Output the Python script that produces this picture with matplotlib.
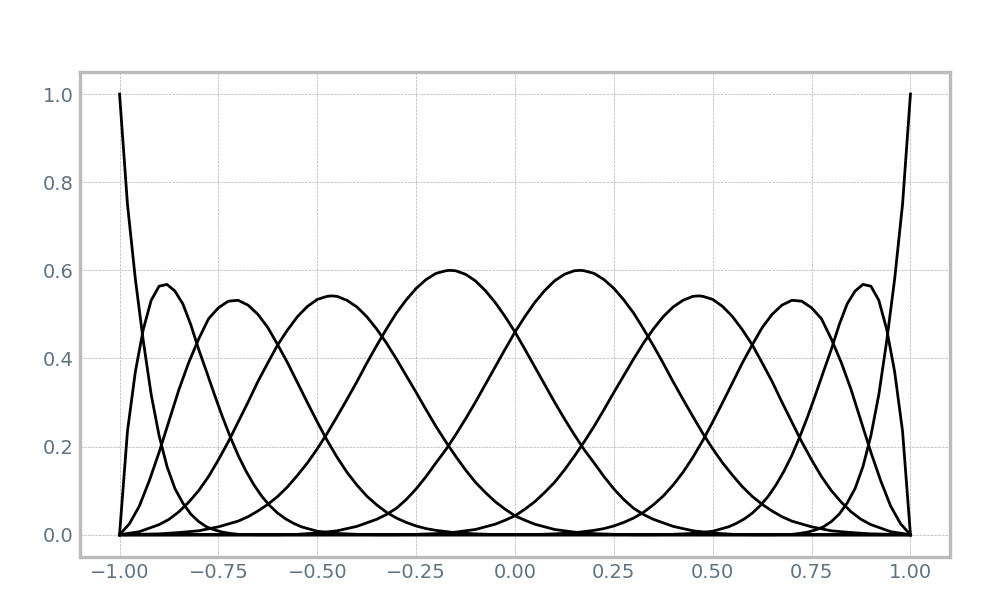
import matplotlib
matplotlib.use('Agg')
import matplotlib.pyplot as plt

# basis curves (left half, then mirrored right half)
xa = [-1.00, -0.98, -0.96, -0.94, -0.92, -0.90, -0.88, -0.86, -0.84, -0.82, -0.80, -0.78, -0.76, -0.74, -0.72, -0.70, -0.65, 1.00]
ya = [1.000, 0.750, 0.580, 0.440, 0.318, 0.225, 0.155, 0.105, 0.072, 0.047, 0.030, 0.018, 0.011, 0.006, 0.003, 0.001, 0.000, 0.000]

xb = [-1.00, -0.98, -0.96, -0.94, -0.92, -0.90, -0.88, -0.86, -0.84, -0.82, -0.80, -0.78, -0.76, -0.74, -0.72, -0.70,
      -0.68, -0.66, -0.64, -0.62, -0.60, -0.58, -0.56, -0.54, -0.50, -0.45, -0.40, -0.35, 1.00]
yb = [0.000, 0.235, 0.370, 0.466, 0.532, 0.564, 0.568, 0.553, 0.524, 0.477, 0.421, 0.370, 0.318, 0.268, 0.222, 0.180,
      0.144, 0.113, 0.087, 0.066, 0.049, 0.036, 0.026, 0.018, 0.008, 0.003, 0.001, 0.000, 0.000]

xc = [-1.000, -0.975, -0.950, -0.925, -0.900, -0.875, -0.850, -0.825, -0.800, -0.775, -0.750, -0.725, -0.700,
      -0.675, -0.650, -0.625, -0.600, -0.575, -0.550, -0.525, -0.500, -0.475, -0.450, -0.425, -0.400, -0.375,
      -0.350, -0.325, -0.300, -0.275, -0.250, -0.225, -0.200, -0.150, -0.100, -0.050, 1.000]
yc = [0.000, 0.025, 0.065, 0.122, 0.187, 0.258, 0.329, 0.391, 0.444, 0.490, 0.515, 0.530, 0.532,
      0.521, 0.500, 0.470, 0.431, 0.390, 0.345, 0.300, 0.256, 0.214, 0.176, 0.142, 0.113, 0.088,
      0.068, 0.051, 0.038, 0.028, 0.020, 0.014, 0.010, 0.0045, 0.002, 0.0005, 0.000]

xd = [-1.00, -0.95, -0.90, -0.875, -0.85, -0.825, -0.80, -0.775, -0.75, -0.725, -0.70, -0.675, -0.65, -0.625,
      -0.60, -0.575, -0.55, -0.525, -0.50, -0.475, -0.465, -0.45, -0.425, -0.40, -0.375, -0.35, -0.325, -0.30,
      -0.275, -0.25, -0.225, -0.20, -0.175, -0.15, -0.125, -0.10, -0.075, -0.05, -0.025, 0.00, 0.025, 0.05,
      0.10, 0.15, 0.20, 0.25, 0.30, 1.00]
yd = [0.000, 0.007, 0.023, 0.035, 0.052, 0.074, 0.100, 0.132, 0.170, 0.211, 0.256, 0.301, 0.348, 0.390,
      0.431, 0.465, 0.495, 0.518, 0.534, 0.541, 0.542, 0.541, 0.532, 0.517, 0.495, 0.467, 0.435, 0.399,
      0.361, 0.323, 0.284, 0.246, 0.211, 0.178, 0.147, 0.119, 0.096, 0.075, 0.058, 0.043, 0.033, 0.024,
      0.012, 0.006, 0.0025, 0.001, 0.000, 0.000]

xe = [-1.00, -0.95, -0.90, -0.85, -0.80, -0.75, -0.70, -0.675, -0.65, -0.625, -0.60, -0.575, -0.55, -0.525,
      -0.50, -0.475, -0.45, -0.425, -0.40, -0.375, -0.35, -0.325, -0.30, -0.275, -0.25, -0.225, -0.20, -0.175,
      -0.165, -0.15, -0.125, -0.10, -0.075, -0.05, -0.025, 0.00, 0.025, 0.05, 0.075, 0.10, 0.125, 0.15, 0.175,
      0.20, 0.225, 0.25, 0.275, 0.30, 0.325, 0.35, 0.40, 0.45, 0.50, 0.55, 0.60, 1.00]
ye = [0.000, 0.001, 0.002, 0.005, 0.009, 0.018, 0.031, 0.041, 0.054, 0.069, 0.087, 0.109, 0.135, 0.163,
      0.195, 0.230, 0.268, 0.307, 0.347, 0.389, 0.429, 0.467, 0.503, 0.533, 0.559, 0.579, 0.593, 0.599,
      0.600, 0.599, 0.591, 0.576, 0.554, 0.527, 0.495, 0.460, 0.421, 0.381, 0.341, 0.301, 0.263, 0.227, 0.193,
      0.163, 0.132, 0.104, 0.080, 0.060, 0.046, 0.035, 0.019, 0.009, 0.004, 0.001, 0.000, 0.000]

xe2 = [-1.00, -0.60, -0.55, -0.50, -0.45, -0.40, -0.35, -0.325, -0.30, -0.275, -0.25, -0.225, -0.20, -0.175,
       -0.15, -0.125, -0.10, -0.075, -0.05, -0.025, 0.00, 0.025, 0.05, 0.075, 0.10, 0.125, 0.15, 0.165, 0.175,
       0.20, 0.225, 0.25, 0.275, 0.30, 0.325, 0.35, 0.375, 0.40, 0.425, 0.45, 0.475, 0.50, 0.525, 0.55, 0.575,
       0.60, 0.625, 0.65, 0.675, 0.70, 0.75, 0.80, 0.85, 0.90, 0.95, 1.00]
ye2 = [0.000, 0.000, 0.001, 0.004, 0.009, 0.019, 0.035, 0.046, 0.060, 0.080, 0.104, 0.132, 0.163, 0.193,
       0.227, 0.263, 0.301, 0.341, 0.381, 0.421, 0.460, 0.495, 0.527, 0.554, 0.576, 0.591, 0.599, 0.600, 0.599,
       0.593, 0.579, 0.559, 0.533, 0.503, 0.467, 0.429, 0.389, 0.347, 0.307, 0.268, 0.230, 0.195, 0.163, 0.135,
       0.109, 0.087, 0.069, 0.054, 0.041, 0.031, 0.018, 0.009, 0.005, 0.002, 0.001, 0.000]

xd2 = [-1.00, -0.30, -0.25, -0.20, -0.15, -0.10, -0.05, -0.025, 0.00, 0.025, 0.05, 0.075, 0.10, 0.125, 0.15,
       0.175, 0.20, 0.225, 0.25, 0.275, 0.30, 0.325, 0.35, 0.375, 0.40, 0.425, 0.45, 0.465, 0.475, 0.50, 0.525,
       0.55, 0.575, 0.60, 0.625, 0.65, 0.675, 0.70, 0.725, 0.75, 0.775, 0.80, 0.825, 0.85, 0.875, 0.90, 0.95, 1.00]
yd2 = [0.000, 0.000, 0.001, 0.0025, 0.006, 0.012, 0.024, 0.033, 0.043, 0.058, 0.075, 0.096, 0.119, 0.147, 0.178,
       0.211, 0.246, 0.284, 0.323, 0.361, 0.399, 0.435, 0.467, 0.495, 0.517, 0.532, 0.541, 0.542, 0.541, 0.534, 0.518,
       0.495, 0.465, 0.431, 0.390, 0.348, 0.301, 0.256, 0.211, 0.170, 0.132, 0.100, 0.074, 0.052, 0.035, 0.023, 0.007, 0.000]

xc2 = [-1.000, 0.050, 0.100, 0.150, 0.200, 0.225, 0.250, 0.275, 0.300, 0.325, 0.350, 0.375, 0.400, 0.425,
       0.450, 0.475, 0.500, 0.525, 0.550, 0.575, 0.600, 0.625, 0.650, 0.675, 0.700, 0.725, 0.750, 0.775,
       0.800, 0.825, 0.850, 0.875, 0.900, 0.925, 0.950, 0.975, 1.000]
yc2 = [0.000, 0.0005, 0.002, 0.0045, 0.010, 0.014, 0.020, 0.028, 0.038, 0.051, 0.068, 0.088, 0.113, 0.142,
       0.176, 0.214, 0.256, 0.300, 0.345, 0.390, 0.431, 0.470, 0.500, 0.521, 0.532, 0.530, 0.515, 0.490,
       0.444, 0.391, 0.329, 0.258, 0.187, 0.122, 0.065, 0.025, 0.000]

xb2 = [-1.00, 0.35, 0.40, 0.45, 0.50, 0.54, 0.56, 0.58, 0.60, 0.62, 0.64, 0.66, 0.68, 0.70, 0.72, 0.74, 0.76,
       0.78, 0.80, 0.82, 0.84, 0.86, 0.88, 0.90, 0.92, 0.94, 0.96, 0.98, 1.00]
yb2 = [0.000, 0.000, 0.001, 0.003, 0.008, 0.018, 0.026, 0.036, 0.049, 0.066, 0.087, 0.113, 0.144, 0.180, 0.222,
       0.268, 0.318, 0.370, 0.421, 0.477, 0.524, 0.553, 0.568, 0.564, 0.532, 0.466, 0.370, 0.235, 0.000]

xa2 = [-1.00, 0.65, 0.70, 0.72, 0.74, 0.76, 0.78, 0.80, 0.82, 0.84, 0.86, 0.88, 0.90, 0.92, 0.94, 0.96, 0.98, 1.00]
ya2 = [0.000, 0.000, 0.001, 0.003, 0.006, 0.011, 0.018, 0.030, 0.047, 0.072, 0.105, 0.155, 0.225, 0.318, 0.440,
       0.580, 0.750, 1.000]

curves = [(xa, ya), (xb, yb), (xc, yc), (xd, yd), (xe, ye),
          (xe2, ye2), (xd2, yd2), (xc2, yc2), (xb2, yb2), (xa2, ya2)]

label_color = '#5f7380'
frame_color = '#bbbbbb'

fig, ax = plt.subplots(figsize=(10, 6), dpi=100)
fig.subplots_adjust(left=0.08, right=0.95, bottom=0.072, top=0.88)

for x, y in curves:
    ax.plot(x, y, color='black', linewidth=2.0, solid_joinstyle='round')

ax.set_xlim(-1.1, 1.1)
ax.set_ylim(-0.05, 1.05)
ax.set_xticks([-1.0, -0.75, -0.5, -0.25, 0.0, 0.25, 0.5, 0.75, 1.0])
ax.set_yticks([0.0, 0.2, 0.4, 0.6, 0.8, 1.0])

ax.grid(True, linestyle='--', linewidth=0.5, color='#b0b0b0')
ax.set_axisbelow(True)
ax.tick_params(length=0, pad=4.5, labelsize=14, labelcolor=label_color)
for sp in ax.spines.values():
    sp.set_color(frame_color)
    sp.set_linewidth(2.4)

fig.savefig('out.png', dpi=100)
